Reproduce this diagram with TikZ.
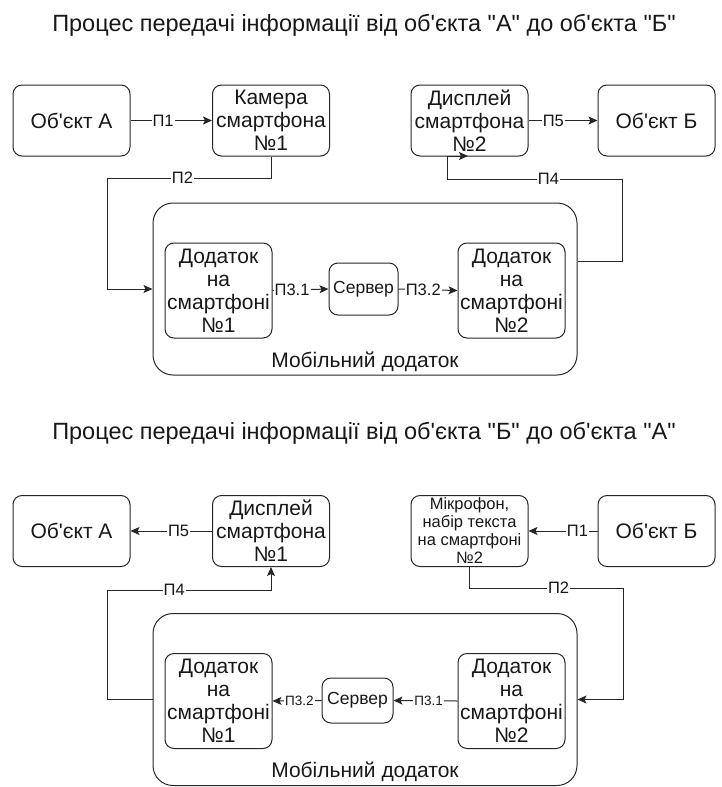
\documentclass[tikz,border=0pt]{standalone}
\usepackage{fontspec}
\setmainfont{Liberation Sans}[Ligatures=TeXOff]
\usetikzlibrary{arrows.meta}
\definecolor{linecol}{HTML}{262626}
\definecolor{textcol}{HTML}{181818}
\tikzset{
    blok/.style={draw=linecol, line width=1pt, rounded corners=9pt, inner sep=0pt,
      align=center, minimum width=117pt, minimum height=71pt, text=textcol,
      font=\fontsize{21}{23}\selectfont},
    app/.style={blok, minimum width=107pt, minimum height=95pt},
    server/.style={blok, minimum width=69pt, minimum height=52pt,
      font=\fontsize{17.5}{20}\selectfont},
    mobile/.style={draw=linecol, line width=1pt, rounded corners=20pt, inner sep=0pt,
      minimum width=424pt, minimum height=172pt},
    lbl/.style={fill=white, inner sep=1pt, text=textcol, font=\fontsize{16.5}{16.5}\selectfont},
    con/.style={draw=linecol, line width=1pt},
    arr/.style={con, -{Stealth[length=9pt,width=8pt,inset=2pt]}},
    title/.style={text=textcol, font=\fontsize{23.5}{26}\selectfont}
}
\begin{document}
\begin{tikzpicture}[x=1pt,y=-1pt]
\useasboundingbox (0,0) rectangle (721,787);

%%% FIRST PROCESS: A TO B %%%
\node[title] (tit1) at (364,25) {Процес передачі інформації від об'єкта "А" до об'єкта "Б"};
\node[blok] (obA1) at (71.5,120.5) {Об'єкт А};
\node[blok] (cam1) at (271,120.5) {Камера\\смартфона\\№1};
\node[blok] (disp2) at (469.5,120.5) {Дисплей\\смартфона\\№2};
\node[blok] (obB1) at (656.5,120.5) {Об'єкт Б};
\node[mobile] (mob1) at (365,289) {};
\node[blok, draw=none] (mobtxt1) at (365,362) {Мобільний додаток};
\node[app] (app1a) at (218.5,290.5) {Додаток\\на\\смартфоні\\№1};
\node[server] (serv1) at (363.5,289) {Сервер};
\node[app] (app2a) at (511.5,290.5) {Додаток\\на\\смартфоні\\№2};

% helper points for the bent connectors
\coordinate (p2a) at (107,178);
\coordinate (p4s) at ([yshift=28pt]mob1.east);
\coordinate (p4b) at (622,179);
\coordinate (p4c) at (447,179);
\coordinate (p4d) at (468,156);

\draw[arr] (obA1.east) -- node[lbl,pos=0.4]{П1} (cam1.west);
\draw[arr] (cam1.south) |- node[lbl,pos=0.77]{П2} (p2a) |- (mob1.west);
\draw[arr] (app1a.east) -- node[lbl,pos=0.35]{П3.1} (serv1.west);
\draw[arr] (serv1.east) -- node[lbl,pos=0.42]{П3.2} (app2a.west);
\draw[arr] (p4s) -| (p4b) -- node[lbl,pos=0.42]{П4} (p4c) |- (p4d);
\draw[arr] (disp2.east) -- node[lbl,pos=0.36]{П5} (obB1.west);

%%% SECOND PROCESS: B TO A %%%
\node[title] (tit2) at (364,433) {Процес передачі інформації від об'єкта "Б" до об'єкта "А"};
\node[blok] (obA2) at (71.5,531) {Об'єкт А};
\node[blok] (disp1) at (271,531) {Дисплей\\смартфона\\№1};
\node[blok, font=\fontsize{16.5}{18}\selectfont] (mic2) at (469.5,531) {Мікрофон,\\набір текста\\на смартфоні\\№2};
\node[blok] (obB2) at (656.5,531) {Об'єкт Б};
\node[mobile] (mob2) at (365,699.5) {};
\node[blok, draw=none] (mobtxt2) at (365,772) {Мобільний додаток};
\node[app] (app1b) at (218.5,701) {Додаток\\на\\смартфоні\\№1};
\node[server, minimum width=71pt, minimum height=45pt] (serv2) at (357.5,700.5) {Сервер};
\node[app] (app2b) at (511.5,701) {Додаток\\на\\смартфоні\\№2};

% helper points for the bent connectors
\coordinate (p2c) at (623,588);
\coordinate (p4e) at (107,590);
\coordinate (p4f) at (271,590);

\draw[arr] (obB2.west) -- node[lbl,pos=0.29]{П1} (mic2.east);
\draw[arr] (mic2.south) |- node[lbl,pos=0.79]{П2} (p2c) |- (mob2.east);
\draw[arr] (app2b.west) -- node[lbl,pos=0.45,font=\fontsize{13.5}{14}\selectfont]{П3.1} (serv2.east);
\draw[arr] (serv2.west) -- node[lbl,pos=0.45,font=\fontsize{13.5}{14}\selectfont]{П3.2} (app1b.east);
\draw[arr] (mob2.west) -| (p4e) -- node[lbl,pos=0.41]{П4} (p4f) -- (disp1.south);
\draw[arr] (disp1.west) -- node[lbl,pos=0.41]{П5} (obA2.east);
\end{tikzpicture}
\end{document}
